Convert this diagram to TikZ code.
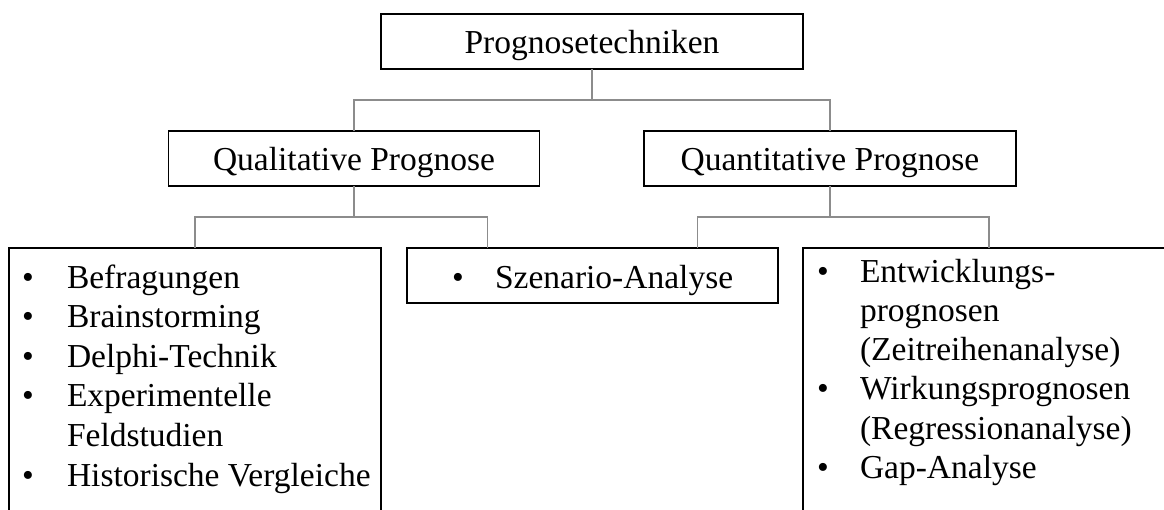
\documentclass[tikz,border=0pt]{standalone}
\usepackage{fontspec}
\setmainfont{Liberation Serif}
\usetikzlibrary{calc}
\begin{document}
\begin{tikzpicture}[x=1pt,y=-1pt,
  box/.style={draw=black,line width=1.8pt,inner sep=0pt,outer sep=0pt,
              minimum width=#1},
  link/.style={draw=linkgray,line width=1.5pt},
  txt/.style={font=\fontsize{33.5}{40}\selectfont,inner sep=0pt,outer sep=0pt},
  bul/.style={txt,anchor=base},
  item/.style={txt,anchor=base west}]
\definecolor{linkgray}{HTML}{8C8C8C}
\useasboundingbox (0,0) rectangle (1164,509);
\clip (0,0) rectangle (1164,509);
\fill[white] (0,0) rectangle (1164,509);

% boxes
\node[box=422pt,minimum height=55pt] (top)   at (592,41.5) {};
\node[box=371pt,minimum height=55pt] (qual)  at (354,158.5) {};
\node[box=372pt,minimum height=55pt] (quant) at (830,158.5) {};
\node[box=372pt,minimum height=320pt] (L)    at (195,408) {};
\node[box=371pt,minimum height=55pt] (S)     at (592.5,275.5) {};
\node[box=372pt,minimum height=320pt] (R)    at (989,408) {};

% branch points
\coordinate (j1) at (592,100);
\coordinate (j2) at (354,217);
\coordinate (j3) at (830,217);
\coordinate (s1) at ([xshift=-105pt]S.north);
\coordinate (s2) at ([xshift=105pt]S.north);

% connectors
\draw[link] (top.south) -- (j1);
\draw[link] (qual.north) |- (j1) -| (quant.north);
\draw[link] (qual.south) -- (j2);
\draw[link] (L.north) |- (j2) -| (s1);
\draw[link] (quant.south) -- (j3);
\draw[link] (s2) |- (j3) -| (R.north);

% headings
\node[txt,anchor=base] (tTop)   at (592,53)  {Prognosetechniken};
\node[txt,anchor=base] (tQual)  at (354,170) {Qualitative Prognose};
\node[txt,anchor=base] (tQuant) at (830,170) {Quantitative Prognose};

% qualitative methods
\node[bul]  (lb1) at (28,288)   {•};
\node[item] (l1)  at (67,288)   {Befragungen};
\node[bul]  (lb2) at (28,327.6) {•};
\node[item] (l2)  at (67,327.6) {Brainstorming};
\node[bul]  (lb3) at (28,367.2) {•};
\node[item] (l3)  at (67,367.2) {Delphi-Technik};
\node[bul]  (lb4) at (28,406.8) {•};
\node[item] (l4)  at (67,406.8) {Experimentelle};
\node[item] (l5)  at (67,446.4) {Feldstudien};
\node[bul]  (lb6) at (28,486)   {•};
\node[item] (l6)  at (67,486)   {Historische Vergleiche};

% shared method
\node[bul]  (sb1) at (458,288) {•};
\node[item] (s1t) at (495,288) {Szenario-Analyse};

% quantitative methods
\node[bul]  (rb1) at (823,282)   {•};
\node[item] (r1)  at (860,282)   {Entwicklungs-};
\node[item] (r2)  at (860,321.3) {prognosen};
\node[item] (r3)  at (860,360.6) {(Zeitreihenanalyse)};
\node[bul]  (rb4) at (823,399.9) {•};
\node[item] (r4)  at (860,399.9) {Wirkungsprognosen};
\node[item] (r5)  at (860,439.2) {(Regressionanalyse)};
\node[bul]  (rb6) at (823,478.5) {•};
\node[item] (r6)  at (860,478.5) {Gap-Analyse};
\end{tikzpicture}
\end{document}
